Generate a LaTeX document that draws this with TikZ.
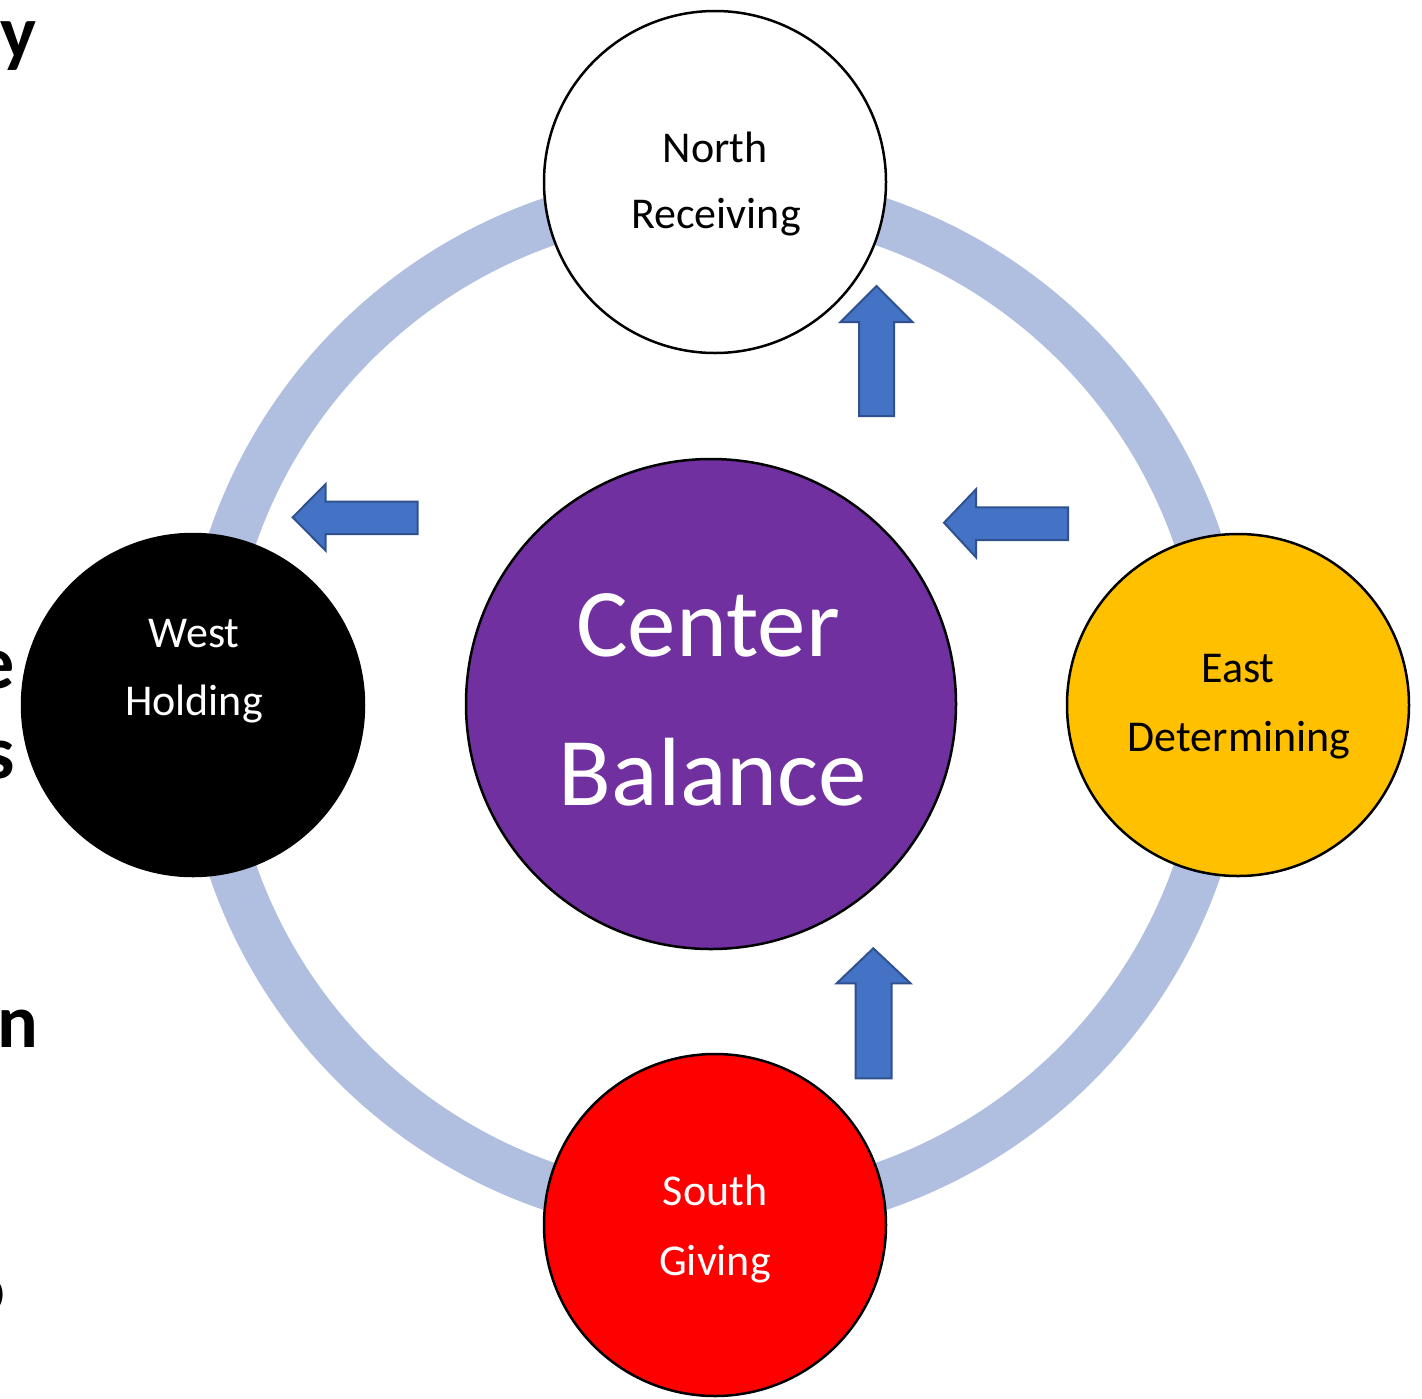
\documentclass[tikz,border=0pt]{standalone}
\usepackage{fontspec}
\setmainfont{Carlito}
\definecolor{ringblue}{RGB}{176,190,224}
\definecolor{arrowfill}{RGB}{68,114,196}
\definecolor{arrowedge}{RGB}{47,82,143}
\definecolor{cpurple}{RGB}{112,48,160}
\definecolor{eyellow}{RGB}{255,192,0}
\definecolor{sred}{RGB}{255,0,0}
\begin{document}
\begin{tikzpicture}[x=1pt,y=-1pt,
  disc/.style={circle, draw=black, line width=2.5pt, minimum size=342pt, inner sep=0pt},
  lbl/.style={anchor=base, inner sep=0pt, font=\fontsize{44}{53}\selectfont},
  biglbl/.style={anchor=base, inner sep=0pt, font=\fontsize{97}{116}\selectfont, text=white},
  cutletter/.style={anchor=base east, inner sep=0pt, font=\fontsize{76}{90}\selectfont\bfseries},
  blockarrow/.style={fill=arrowfill, draw=arrowedge, line width=2pt, line join=miter}]
\clip (0,0) rectangle (1422,1398);
\fill[white] (0,0) rectangle (1422,1398);

% cut-off letters at the left edge
\node[cutletter] (cy) at (37,58) {y};
\node[cutletter] (ce) at (15,688) {e};
\node[cutletter] (cs) at (15,778) {s};
\node[cutletter] (cn) at (38,1047) {n};
\node[cutletter] (co) at (6,1313) {o};

% ring
\coordinate (ringc) at (715,704);
\draw[ringblue, line width=48pt] (ringc) circle[radius=510];

% block arrows
\draw[blockarrow] (876.5,286) -- (912.5,322) -- (894,322) -- (894,416) -- (859,416) -- (859,322) -- (840.5,322) -- cycle;
\draw[blockarrow] (873.3,948.3) -- (910.5,983.3) -- (891.7,983.3) -- (891.7,1078.3) -- (855.7,1078.3) -- (855.7,983.3) -- (836.7,983.3) -- cycle;
\draw[blockarrow] (292.7,517.3) -- (325.7,484) -- (325.7,501.7) -- (417.7,501.7) -- (417.7,534) -- (325.7,534) -- (325.7,550.7) -- cycle;
\draw[blockarrow] (944,522.7) -- (976,489.3) -- (976,507.3) -- (1068,507.3) -- (1068,540) -- (976,540) -- (976,557.3) -- cycle;

% circles
\node[disc, fill=white] (north) at (715,182) {};
\node[disc, fill=black] (west) at (193,705) {};
\node[disc, fill=eyellow] (east) at (1238,705) {};
\node[disc, fill=sred] (south) at (715,1225) {};
\node[disc, fill=cpurple, minimum size=490pt] (center) at (711,704) {};

% labels
\node[lbl] (northA) at (715,162.7) {North};
\node[lbl] (northB) at (716,228.3) {Receiving};
\node[lbl, text=white] (westA) at (194,647.3) {West};
\node[lbl, text=white] (westB) at (194,715) {Holding};
\node[lbl] (eastA) at (1238,682.7) {East};
\node[lbl] (eastB) at (1239,751.7) {Determining};
\node[lbl, text=white] (southA) at (715,1205) {South};
\node[lbl, text=white] (southB) at (715,1275) {Giving};
\node[biglbl] (centerA) at (708,656) {Center};
\node[biglbl] (centerB) at (713,805) {Balance};
\end{tikzpicture}
\end{document}
